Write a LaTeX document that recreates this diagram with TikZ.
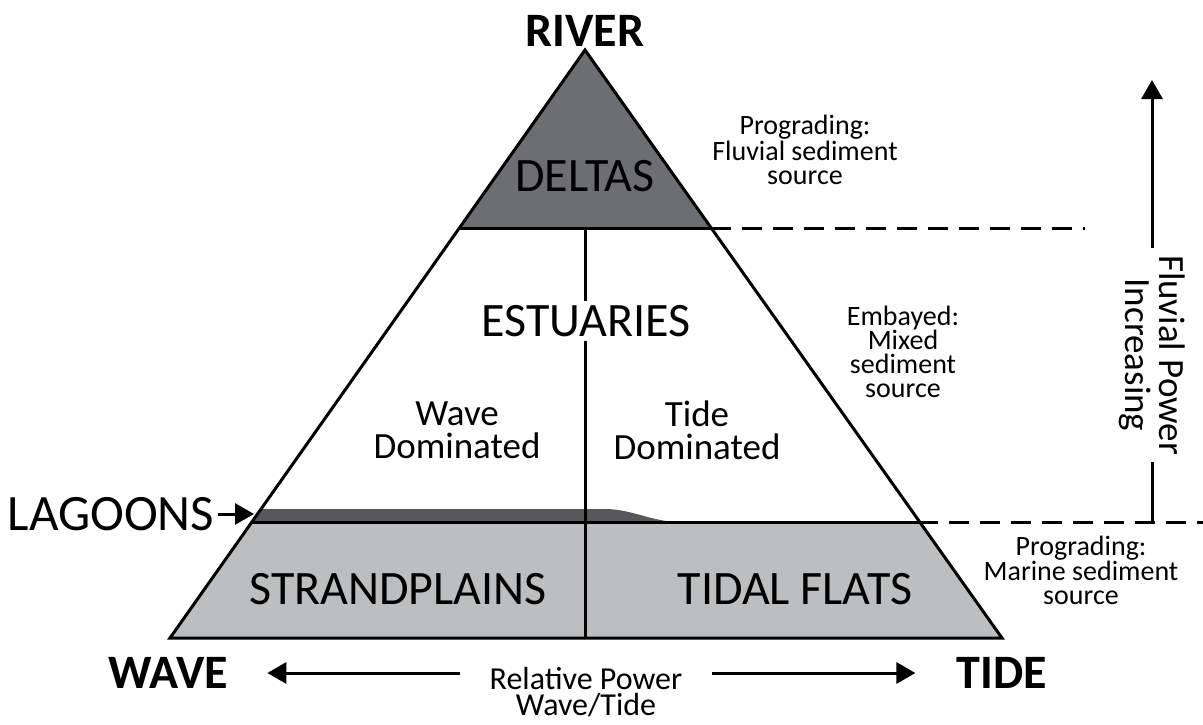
\documentclass[tikz,border=0pt]{standalone}
\usepackage{fontspec}
\setmainfont{Carlito}
\usetikzlibrary{arrows.meta,positioning,calc}
\definecolor{deltagray}{HTML}{6D6E71}
\definecolor{lagoongray}{HTML}{58585A}
\definecolor{flatgray}{HTML}{BCBEC0}

\begin{document}
\begin{tikzpicture}[x=1pt,y=-1pt,line width=3pt,
 unit/.style={inner sep=0pt,font=\fontsize{48}{52}\selectfont},
 pole/.style={inner sep=0pt,font=\fontsize{48}{52}\selectfont\bfseries},
 sub/.style={inner sep=0pt,align=center,font=\fontsize{37}{33}\selectfont},
 note/.style={inner sep=0pt,align=center,font=\fontsize{28}{24}\selectfont},
 flow/.style={-{Triangle[length=19pt,width=21pt]}},
 limit/.style={dash pattern=on 20pt off 11pt}]
\useasboundingbox (0,0) rectangle (1203,724);
% corners of the triangle and its bands
\coordinate (top) at (585,50);
\coordinate (bl) at (170,638); \coordinate (br) at (1002,638);
\coordinate (dl) at (459,228); \coordinate (dr) at (711,228);
\coordinate (ll) at (252,522); \coordinate (lr) at (918,522);
\coordinate (mt) at (585,228); \coordinate (mb) at (585,638);
\fill[deltagray] (top)--(dl)--(dr)--cycle;
\fill[flatgray] (ll)--(lr)--(br)--(bl)--cycle;
\fill[lagoongray] (261,509)--(605,509) .. controls (632,509) and (652,522) .. (680,522)--(ll)--cycle;
\draw[line join=miter] (top)--(bl)--(br)--cycle;
\draw (dl)--(dr) (ll)--(lr) (mt)--(mb);
\draw[limit] (dr)--(1085,228) (lr)--(1203,522);
% labels
\node[pole] (river) at (585,31) {RIVER};
\node[pole] (wave) at (168,673) {WAVE};
\node[pole] (tide) at (1002,673) {TIDE};
\node[unit] (deltas) at (585,176) {DELTAS};
\node[unit,fill=white,inner ysep=4pt] (estuaries) at (586,321) {ESTUARIES};
\node[unit] (strand) at (398,589) {STRANDPLAINS};
\node[unit] (flats) at (795,589) {TIDAL FLATS};
\node[unit,font=\fontsize{51}{54}\selectfont] (lagoons) at (111,514) {LAGOONS};
\node[sub] (wavedom) at (457,430) {Wave\\Dominated};
\node[sub] (tidedom) at (697,430) {Tide\\Dominated};
\node[note] (fluvsrc) at (805,150) {Prograding:\\Fluvial sediment\\source};
\node[note] (mixsrc) at (903,352) {Embayed:\\Mixed\\sediment\\source};
\node[note] (marsrc) at (1081,570) {Prograding:\\Marine sediment\\source};
\node[inner sep=0pt,align=center,font=\fontsize{32}{26}\selectfont] (relpow) at (586,692) {Relative Power\\Wave/Tide};
\node[inner sep=0pt,align=center,rotate=-90,font=\fontsize{37}{34}\selectfont] (fluvial) at (1152,355) {Fluvial Power\\Increasing};
% arrows
\coordinate (fltip) at (1152,80); \coordinate (flbase) at (1152,522);
\coordinate (lagtip) at (254,514);
\draw[flow,shorten <=6pt] (fluvial.west) -- (fltip);
\draw[shorten <=6pt] (fluvial.east) -- (flbase);
\draw[flow,shorten <=2pt] (lagoons.east) -- (lagtip);
\draw[flow,shorten <=28pt,shorten >=38pt] (relpow.west |- wave.east) -- (wave.east);
\draw[flow,shorten <=28pt,shorten >=40pt] (relpow.east |- tide.west) -- (tide.west);
\end{tikzpicture}
\end{document}
